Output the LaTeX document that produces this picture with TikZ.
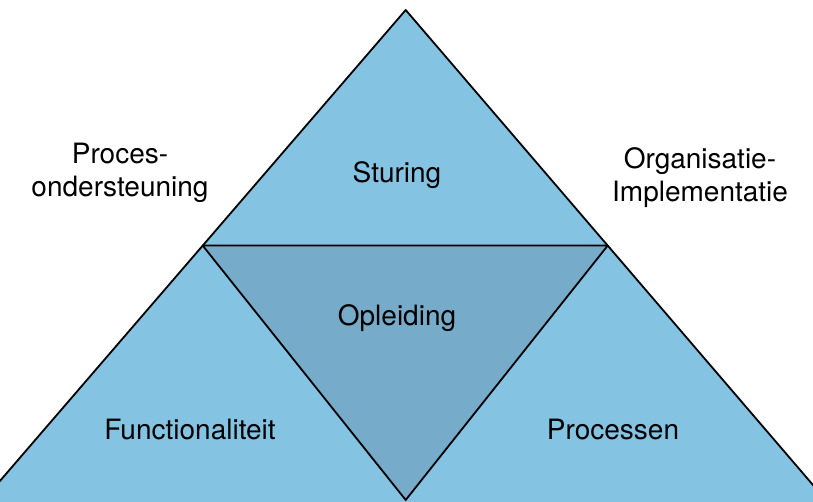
\documentclass[tikz,border=0pt]{standalone}
\usepackage{fontspec}
\setmainfont{TeX Gyre Heros}
\usetikzlibrary{positioning}
\definecolor{lightblue}{RGB}{133,195,227}
\definecolor{darkblue}{RGB}{118,171,202}
\tikzset{
  labeltext/.style={font=\fontsize{28}{33}\selectfont, inner sep=0pt, align=center},
  edge/.style={draw=black, line width=1.8pt, line join=round}
}

\begin{document}
\begin{tikzpicture}[x=1pt,y=1pt]
   \useasboundingbox (0,0) rectangle (813,501);
   \clip (0,0) rectangle (813,501);

   % corners of the triangles
   \coordinate (top) at (405.7,491);
   \coordinate (midleft) at (202.7,255.4);
   \coordinate (midright) at (607.7,255.4);
   \coordinate (bottom) at (405.7,1);
   \coordinate (outleft) at (-51.8,-40);
   \coordinate (outright) at (861,-40);

   \fill[lightblue] (top) -- (outleft) -- (outright) -- cycle;
   \fill[darkblue] (midleft) -- (midright) -- (bottom) -- cycle;
   \draw[edge] (outleft) -- (top) -- (outright);
   \draw[edge] (midleft) -- (midright) -- (bottom) -- cycle;
   %\draw[edge] (outleft) -- (outright);

   \node[labeltext, anchor=base] (sturing) at (397,318) {Sturing};
   \node[labeltext, anchor=base] (opleiding) at (397,176) {Opleiding};
   \node[labeltext, anchor=base] (functionaliteit) at (190,62) {Functionaliteit};
   \node[labeltext, anchor=base] (processen) at (613,62) {Processen};

   \node[labeltext] (procesondersteuning) at (120,328.5) {Proces-\\ondersteuning};
   \node[labeltext] (organisatie) at (700,323) {Organisatie-\\Implementatie};
\end{tikzpicture}
\end{document}
